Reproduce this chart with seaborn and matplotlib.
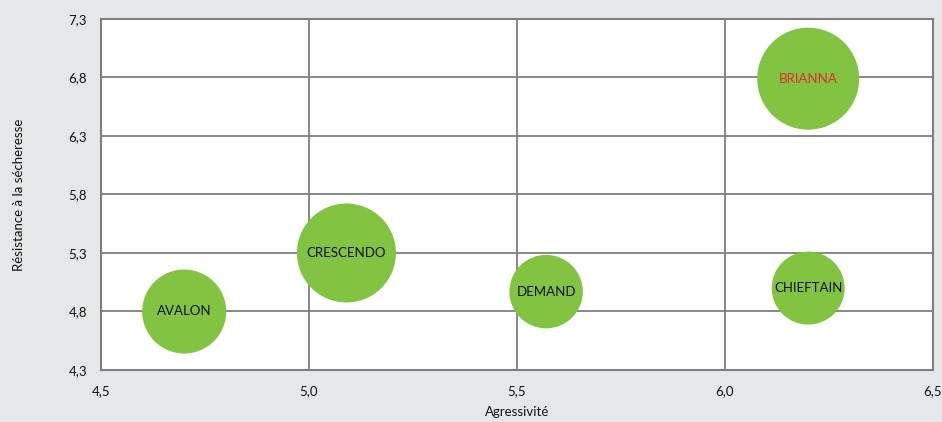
import pandas as pd
import matplotlib
matplotlib.use("Agg")
import matplotlib.pyplot as plt
import seaborn as sns

varietes = ['AVALON', 'CRESCENDO', 'DEMAND', 'CHIEFTAIN', 'BRIANNA']
agressivite = [4.70, 5.09, 5.57, 6.20, 6.20]
resistance = [4.80, 5.30, 4.97, 5.00, 6.79]
taille = [3.66, 5.08, 2.80, 2.76, 5.39]  # surface relative des bulles
couleurs_texte = ['#111111', '#111111', '#111111', '#111111', '#e42b33']

x_ticks = [4.5, 5.0, 5.5, 6.0, 6.5]
y_ticks = [4.3, 4.8, 5.3, 5.8, 6.3, 6.8, 7.3]

df = pd.DataFrame({'Variete': varietes, 'Agressivite': agressivite,
                   'Resistance': resistance, 'Taille': taille})

sns.set_style('white')
plt.rcParams['font.family'] = ['Lato', 'DejaVu Sans']

fond = '#e6e7e8'
gris = '#7f7f7f'
vert = '#82c341'

fig = plt.figure(figsize=(9.42, 4.22), dpi=100, facecolor=fond)
ax = fig.add_axes([101 / 942, 1 - 370 / 422, 832 / 942, 351 / 422])
ax.set_facecolor('white')

sns.scatterplot(data=df, x='Agressivite', y='Resistance', size='Taille',
                sizes=(0, 1000 * max(taille)), size_norm=(0, max(taille)),
                color=vert, linewidth=0, alpha=1, legend=False, ax=ax, zorder=3)

for nom, xv, yv, c in zip(varietes, agressivite, resistance, couleurs_texte):
    ax.text(xv, yv, nom, ha='center', va='center', fontsize=9.5, color=c, zorder=4)

ax.set_xlim(x_ticks[0], x_ticks[-1])
ax.set_ylim(y_ticks[0], y_ticks[-1])
ax.set_xticks(x_ticks)
ax.set_yticks(y_ticks)
ax.set_xticklabels([f'{v:.1f}'.replace('.', ',') for v in x_ticks])
ax.set_yticklabels([f'{v:.1f}'.replace('.', ',') for v in y_ticks])
ax.tick_params(length=0, labelsize=9.5, colors='#111111')
ax.tick_params(axis='x', pad=11)
ax.tick_params(axis='y', pad=10)
ax.grid(True, color=gris, linewidth=1.3, zorder=0)
ax.set_axisbelow(True)
for sp in ax.spines.values():
    sp.set_color(gris)
    sp.set_linewidth(1.5)

ax.set_xlabel('Agressivité', fontsize=9.5, color='#111111', labelpad=6)
ax.set_ylabel('Résistance à la sécheresse', fontsize=9.5, color='#111111', labelpad=31)

fig.savefig('out.png', dpi=100, facecolor=fond)
